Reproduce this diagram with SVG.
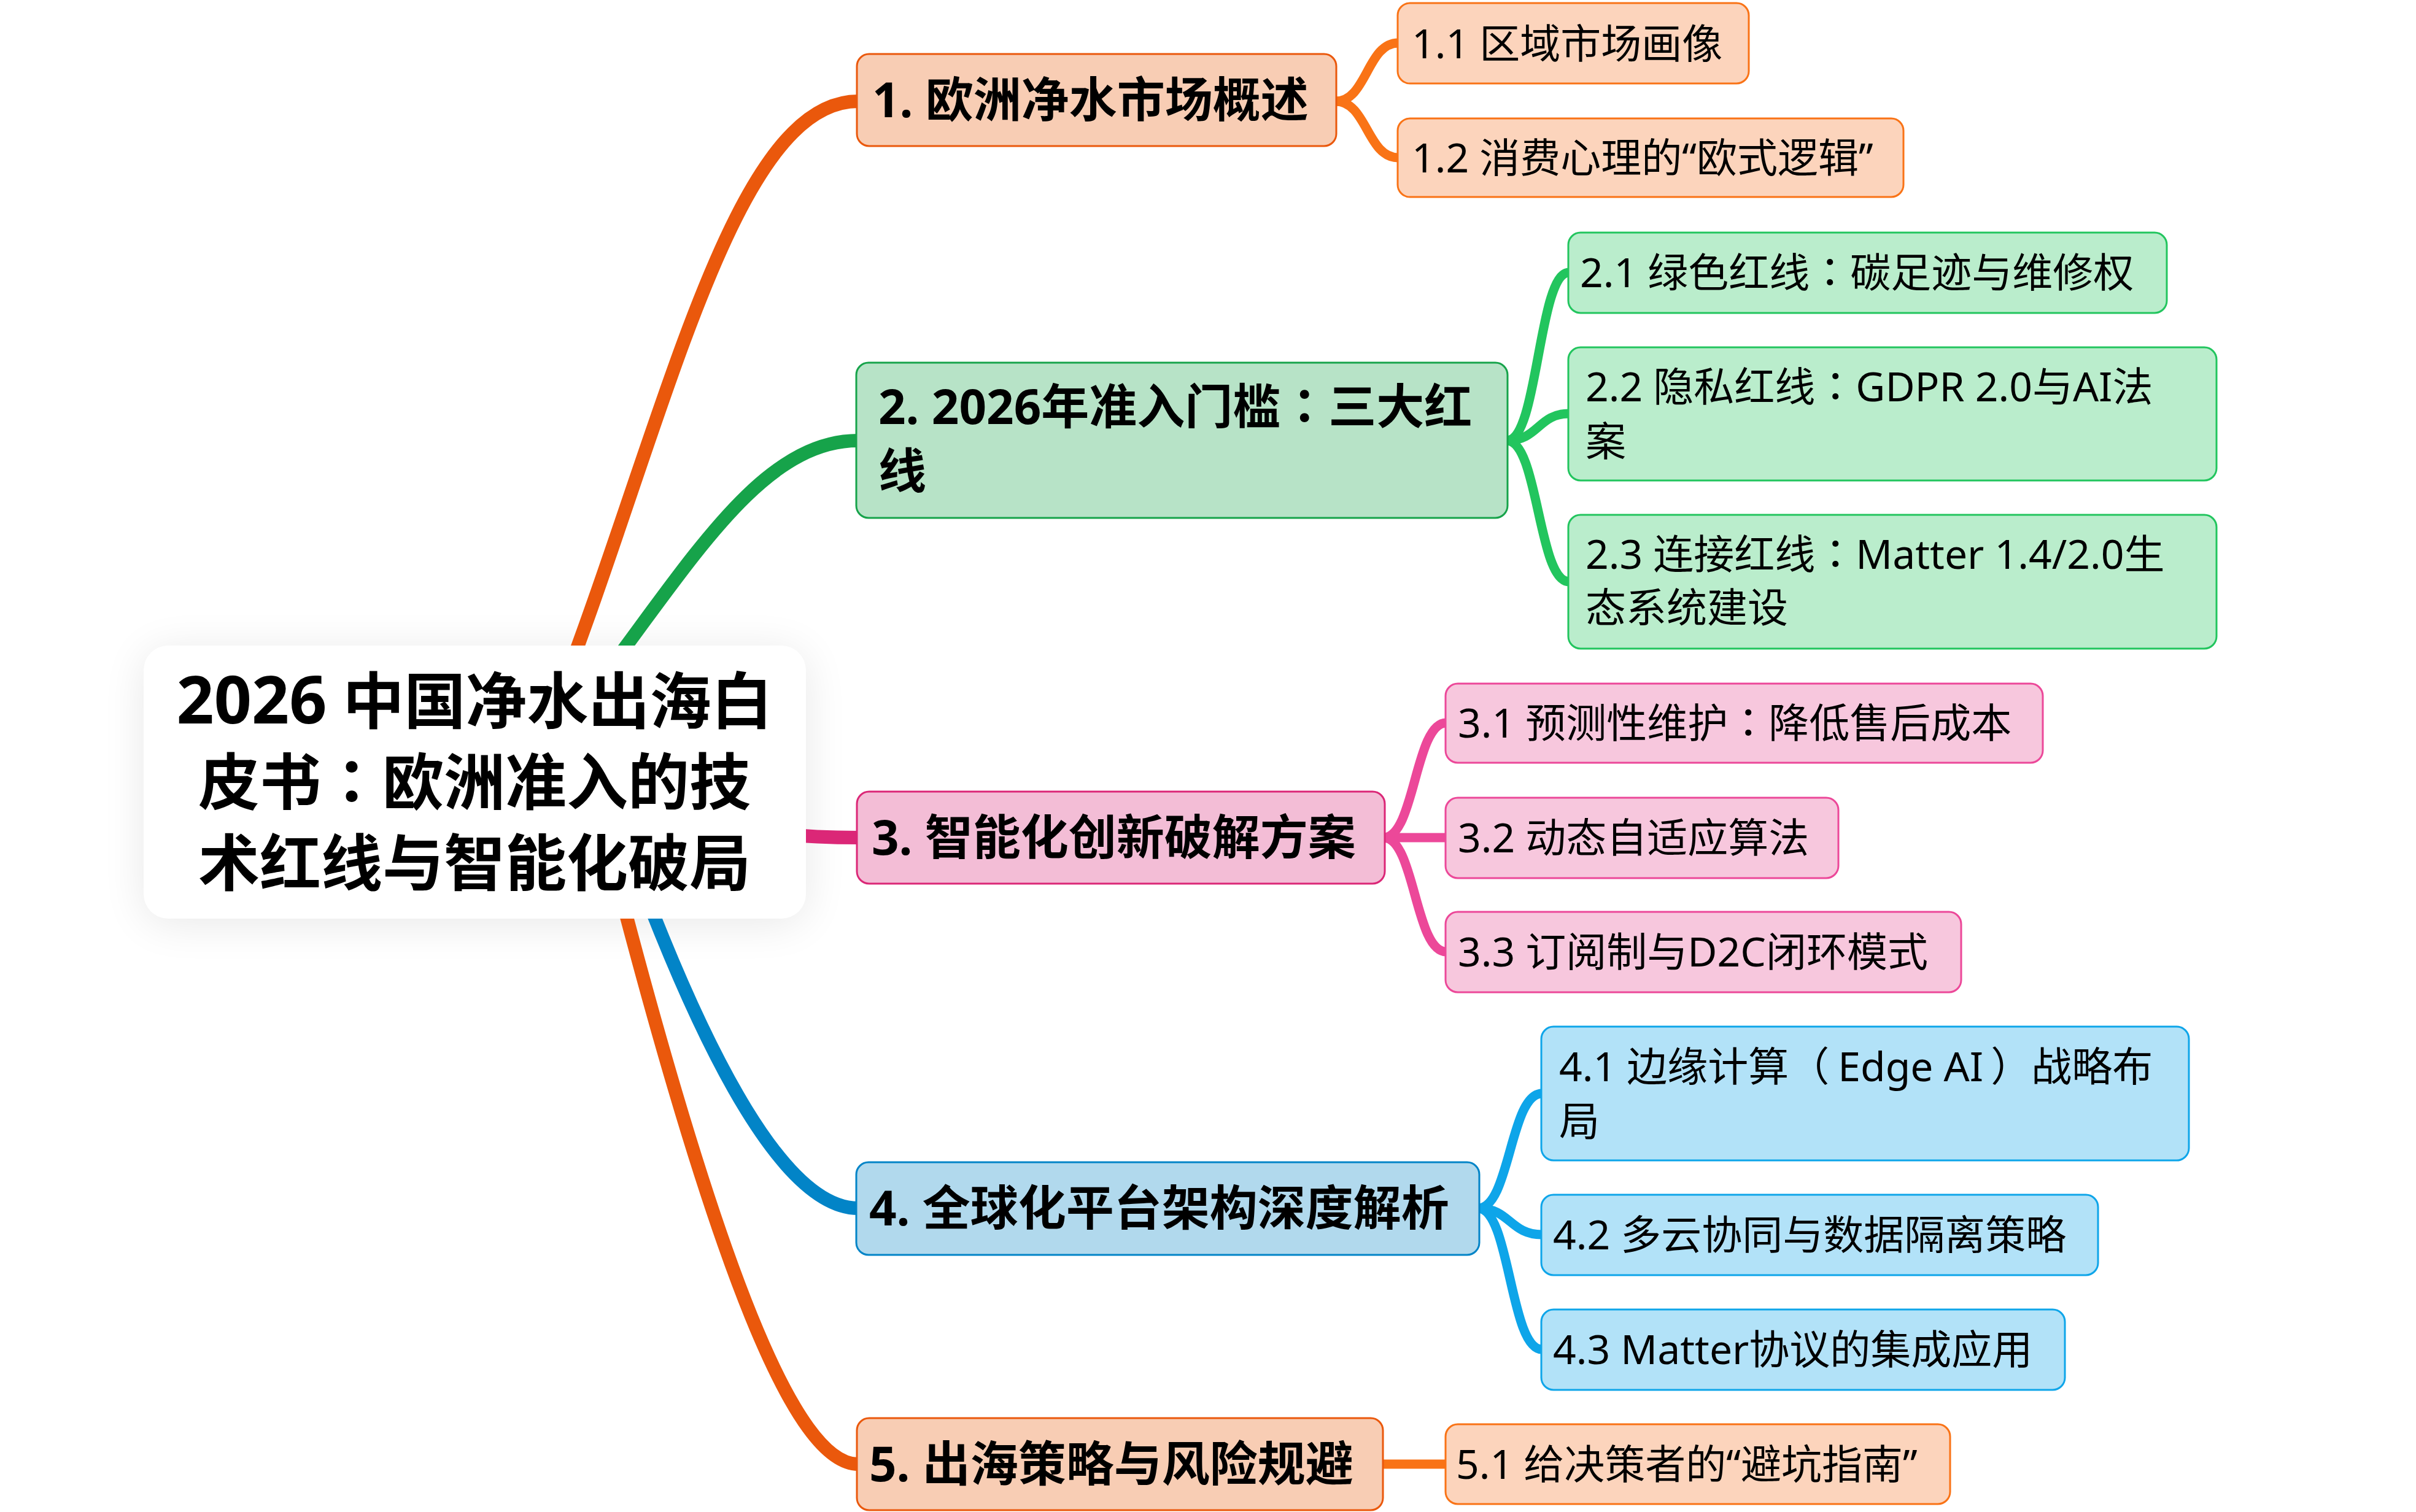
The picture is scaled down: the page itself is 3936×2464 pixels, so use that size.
<svg xmlns="http://www.w3.org/2000/svg" width="3936" height="2464" viewBox="0 0 3936 2464">
<style>
  text { font-family: "Noto Sans", "Noto Sans CJK SC", sans-serif; fill: #000; }
  .cp { font-family: "Noto Sans CJK TC", "Noto Sans CJK SC", sans-serif; }
  .rt { font-size: 100px; font-weight: 700; }
  .l1 { font-size: 78px; font-weight: 700; }
  .l2 { font-size: 66px; font-weight: 400; }
  .c1 { fill: none; stroke-width: 22; }
  .c2 { fill: none; stroke-width: 15; }
  .or1 { stroke: #EA580C; } .or2 { stroke: #F97316; }
  .gr1 { stroke: #16A34A; } .gr2 { stroke: #22C55E; }
  .pk1 { stroke: #DB2777; } .pk2 { stroke: #EC4899; }
  .sk1 { stroke: #0284C7; } .sk2 { stroke: #0EA5E9; }
  .bo1 { fill: #F8CDB4; stroke: #EA580C; stroke-width: 3; }
  .bo2 { fill: #FCD4BC; stroke: #F97316; stroke-width: 3; }
  .bg1 { fill: #B7E3C7; stroke: #16A34A; stroke-width: 3; }
  .bg2 { fill: #BAEDCC; stroke: #22C55E; stroke-width: 3; }
  .bp1 { fill: #F3BDD6; stroke: #DB2777; stroke-width: 3; }
  .bp2 { fill: #F7C7DD; stroke: #EC4899; stroke-width: 3; }
  .bs1 { fill: #B1D9ED; stroke: #0284C7; stroke-width: 3; }
  .bs2 { fill: #B2E2F8; stroke: #0EA5E9; stroke-width: 3; }
</style>
<defs>
  <filter id="sh" x="-30%" y="-50%" width="160%" height="200%">
    <feGaussianBlur stdDeviation="35"/>
  </filter>
</defs>
<rect width="3936" height="2464" fill="#ffffff"/>
<g id="root-shadow">
  <rect x="234" y="1060" width="1079" height="445" rx="40" fill="#000" opacity="0.09" filter="url(#sh)"/>
</g>
<g id="connectors">
  <path class="c1 or1" d="M905 1150 C1085 685 1193 165 1398 165"/>
  <path class="c1 gr1" d="M985 1100 C1135 900 1246 718 1398 718"/>
  <path class="c1 pk1" d="M773 1275 C1085 1275 1085 1365 1398 1365"/>
  <path class="c1 sk1" d="M1030 1400 C1152 1729 1280 1969 1398 1969"/>
  <path class="c1 or1" d="M995 1395 C1170 2074 1296 2386 1398 2386"/>
  <path class="c2 or2" d="M2176 165 C2227 165 2227 70 2278 70"/>
  <path class="c2 or2" d="M2176 165 C2227 165 2227 257 2278 257"/>
  <path class="c2 gr2" d="M2455 718 C2506 718 2506 444 2556 444"/>
  <path class="c2 gr2" d="M2455 718 C2506 718 2506 674 2556 674"/>
  <path class="c2 gr2" d="M2455 718 C2506 718 2506 948 2556 948"/>
  <path class="c2 pk2" d="M2254 1365 C2305 1365 2305 1178 2356 1178"/>
  <path class="c2 pk2" d="M2254 1365 H2356"/>
  <path class="c2 pk2" d="M2254 1365 C2305 1365 2305 1551 2356 1551"/>
  <path class="c2 sk2" d="M2408 1969 C2460 1969 2460 1782 2512 1782"/>
  <path class="c2 sk2" d="M2408 1969 C2460 1969 2460 2012 2512 2012"/>
  <path class="c2 sk2" d="M2408 1969 C2460 1969 2460 2199 2512 2199"/>
  <path class="c2 or2" d="M2251 2386 H2356"/>
</g>
<g id="root">
  <rect x="234" y="1052" width="1079" height="445" rx="40" fill="#ffffff"/>
  <text class="rt" x="773" y="1179" text-anchor="middle"><tspan font-size="107">2026</tspan> 中国净水出海白</text>
  <text class="rt" x="773" y="1311" text-anchor="middle">皮书<tspan class="cp">：</tspan>欧洲准入的技</text>
  <text class="rt" x="773" y="1443" text-anchor="middle">术红线与智能化破局</text>
</g>
<g id="n1">
  <rect class="bo1" x="1396" y="88" width="781" height="150" rx="20"/>
  <text class="l1" x="1421" y="191">1. 欧洲净水市场概述</text>
</g>
<g id="n1-1">
  <rect class="bo2" x="2277" y="5" width="572" height="131" rx="20"/>
  <text class="l2" x="2300" y="95">1.1 区域市场画像</text>
</g>
<g id="n1-2">
  <rect class="bo2" x="2277" y="193" width="824" height="128" rx="20"/>
  <text class="l2" x="2300" y="281">1.2 消费心理的“欧式逻辑”</text>
</g>
<g id="n2">
  <rect class="bg1" x="1395" y="591" width="1061" height="253" rx="20"/>
  <text class="l1" x="1431" y="691">2. 2026年准入门槛<tspan class="cp">：</tspan>三大红</text>
  <text class="l1" x="1431" y="796">线</text>
</g>
<g id="n2-1">
  <rect class="bg2" x="2555" y="379" width="975" height="131" rx="20"/>
  <text class="l2" x="2574" y="468">2.1 绿色红线<tspan class="cp">：</tspan>碳足迹与维修权</text>
</g>
<g id="n2-2">
  <rect class="bg2" x="2555" y="566" width="1056" height="217" rx="20"/>
  <text class="l2" x="2583" y="654">2.2 隐私红线<tspan class="cp">：</tspan>GDPR 2.0与AI法</text>
  <text class="l2" x="2583" y="743">案</text>
</g>
<g id="n2-3">
  <rect class="bg2" x="2555" y="839" width="1056" height="218" rx="20"/>
  <text class="l2" x="2583" y="927">2.3 连接红线<tspan class="cp">：</tspan>Matter 1.4/2.0生</text>
  <text class="l2" x="2583" y="1014">态系统建设</text>
</g>
<g id="n3">
  <rect class="bp1" x="1396" y="1290" width="860" height="150" rx="20"/>
  <text class="l1" x="1420" y="1393">3. 智能化创新破解方案</text>
</g>
<g id="n3-1">
  <rect class="bp2" x="2355" y="1114" width="973" height="129" rx="20"/>
  <text class="l2" x="2375" y="1202">3.1 预测性维护<tspan class="cp">：</tspan>降低售后成本</text>
</g>
<g id="n3-2">
  <rect class="bp2" x="2355" y="1300" width="640" height="131" rx="20"/>
  <text class="l2" x="2375" y="1389">3.2 动态自适应算法</text>
</g>
<g id="n3-3">
  <rect class="bp2" x="2355" y="1486" width="840" height="131" rx="20"/>
  <text class="l2" x="2375" y="1575">3.3 订阅制与D2C闭环模式</text>
</g>
<g id="n4">
  <rect class="bs1" x="1395" y="1894" width="1015" height="151" rx="20"/>
  <text class="l1" x="1416" y="1997">4. 全球化平台架构深度解析</text>
</g>
<g id="n4-1">
  <rect class="bs2" x="2511" y="1673" width="1055" height="218" rx="20"/>
  <text class="l2" x="2540" y="1762">4.1 边缘计算（<tspan dx="14">Edge AI</tspan><tspan dx="12">）</tspan>战略布</text>
  <text class="l2" x="2540" y="1851">局</text>
</g>
<g id="n4-2">
  <rect class="bs2" x="2511" y="1947" width="907" height="131" rx="20"/>
  <text class="l2" x="2530" y="2036">4.2 多云协同与数据隔离策略</text>
</g>
<g id="n4-3">
  <rect class="bs2" x="2511" y="2134" width="853" height="131" rx="20"/>
  <text class="l2" x="2530" y="2223">4.3 Matter协议的集成应用</text>
</g>
<g id="n5">
  <rect class="bo1" x="1396" y="2311" width="857" height="150" rx="20"/>
  <text class="l1" x="1416" y="2414">5. 出海策略与风险规避</text>
</g>
<g id="n5-1">
  <rect class="bo2" x="2355" y="2321" width="822" height="130" rx="20"/>
  <text class="l2" x="2372" y="2410">5.1 给决策者的“避坑指南”</text>
</g>
</svg>
